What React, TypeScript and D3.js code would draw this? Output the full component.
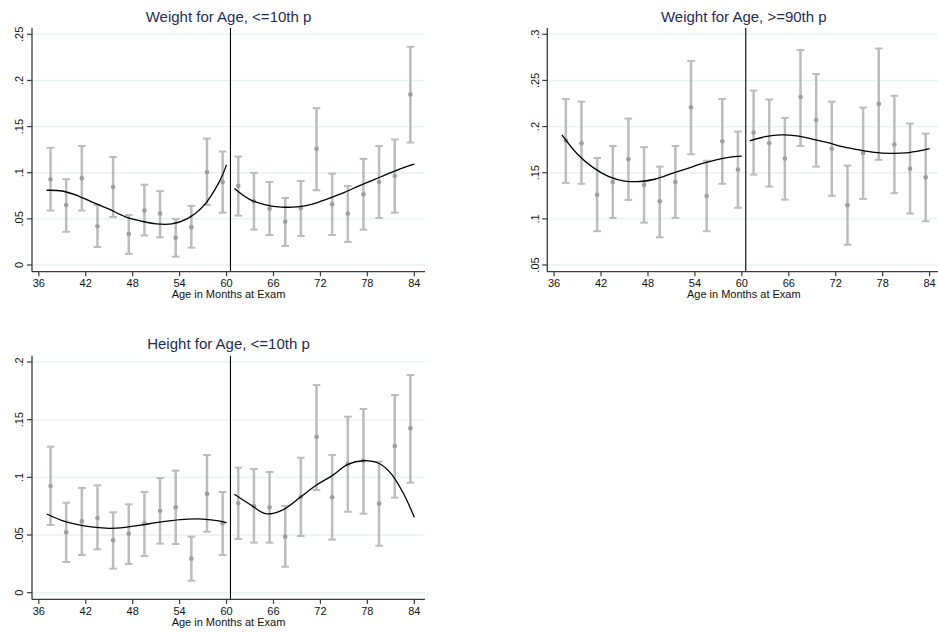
import React from "react";
import * as d3 from "d3";

// Two-month age bins (midpoints), 37.5 .. 83.5
const BIN_MONTHS = [
  37.5, 39.5, 41.5, 43.5, 45.5, 47.5, 49.5, 51.5, 53.5, 55.5, 57.5, 59.5,
  61.5, 63.5, 65.5, 67.5, 69.5, 71.5, 73.5, 75.5, 77.5, 79.5, 81.5, 83.5,
];

const X_TICKS = [36, 42, 48, 54, 60, 66, 72, 78, 84];
const CUTOFF = 60.5;

// Weight for age, <=10th percentile
const wfaLowMean = [0.093, 0.065, 0.094, 0.042, 0.0846, 0.0336, 0.059, 0.0557, 0.0296, 0.041, 0.1005, 0.09,
  0.0857, 0.069, 0.061, 0.047, 0.0618, 0.126, 0.0658, 0.0557, 0.0767, 0.09, 0.0965, 0.1847];
const wfaLowLo = [0.059, 0.036, 0.059, 0.0195, 0.052, 0.012, 0.032, 0.03, 0.009, 0.0188, 0.065, 0.0567,
  0.0535, 0.0383, 0.0325, 0.0206, 0.0315, 0.081, 0.0325, 0.025, 0.0383, 0.051, 0.0567, 0.1327];
const wfaLowHi = [0.127, 0.093, 0.129, 0.065, 0.117, 0.054, 0.087, 0.08, 0.05, 0.064, 0.137, 0.123,
  0.1175, 0.0998, 0.09, 0.0727, 0.091, 0.17, 0.099, 0.0857, 0.115, 0.129, 0.136, 0.2365];
const wfaLowFitLeft: [number, number][] = [[37, 0.081], [39, 0.0802], [41, 0.075], [43, 0.0675], [45, 0.0605], [47, 0.0525],
  [49, 0.0478], [51, 0.0445], [53, 0.0445], [55, 0.0502], [57, 0.0635], [59, 0.089], [60, 0.1085]];
const wfaLowFitRight: [number, number][] = [[61, 0.0828], [63, 0.0708], [65, 0.0652], [67, 0.0628], [69, 0.063], [71, 0.066],
  [73, 0.072], [75, 0.0785], [77, 0.086], [79, 0.093], [81, 0.1], [83, 0.1065], [84, 0.1092]];
const wfaLowTicks = [0, 0.05, 0.1, 0.15, 0.2, 0.25];
const wfaLowTickLabels = ["0", ".05", ".1", ".15", ".2", ".25"];

// Weight for age, >=90th percentile
const wfaHighMean = [0.1848, 0.182, 0.126, 0.14, 0.1646, 0.1368, 0.119, 0.14, 0.221, 0.1248, 0.184, 0.1534,
  0.1935, 0.182, 0.1653, 0.232, 0.207, 0.176, 0.1147, 0.1715, 0.2246, 0.1805, 0.1544, 0.145];
const wfaHighLo = [0.139, 0.138, 0.0866, 0.101, 0.1205, 0.0959, 0.08, 0.101, 0.17, 0.0866, 0.138, 0.112,
  0.148, 0.135, 0.1208, 0.179, 0.1566, 0.125, 0.072, 0.1216, 0.164, 0.1278, 0.1057, 0.0974];
const wfaHighHi = [0.23, 0.227, 0.166, 0.179, 0.2087, 0.1777, 0.1566, 0.179, 0.271, 0.163, 0.23, 0.1946,
  0.239, 0.2293, 0.2094, 0.283, 0.257, 0.227, 0.1577, 0.2206, 0.2846, 0.2333, 0.2033, 0.1924];
const wfaHighFitLeft: [number, number][] = [[37, 0.191], [39, 0.17], [41, 0.1555], [43, 0.1458], [45, 0.141], [47, 0.1405],
  [49, 0.1432], [51, 0.149], [53, 0.1545], [55, 0.16], [57, 0.1645], [59, 0.1675], [60, 0.168]];
const wfaHighFitRight: [number, number][] = [[61, 0.1845], [63, 0.189], [65, 0.191], [67, 0.19], [69, 0.1865], [71, 0.1825],
  [73, 0.178], [75, 0.1747], [77, 0.172], [79, 0.171], [81, 0.1715], [83, 0.1742], [84, 0.1761]];
const wfaHighTicks = [0.05, 0.1, 0.15, 0.2, 0.25, 0.3];
const wfaHighTickLabels = [".05", ".1", ".15", ".2", ".25", ".3"];

// Height for age, <=10th percentile
const hfaLowMean = [0.0925, 0.0524, 0.0619, 0.0648, 0.0454, 0.0512, 0.0602, 0.0711, 0.074, 0.0295, 0.0858, 0.0602,
  0.0775, 0.0752, 0.074, 0.0486, 0.0832, 0.135, 0.0827, 0.1113, 0.1144, 0.0772, 0.1272, 0.1425];
const hfaLowLo = [0.0587, 0.0266, 0.0327, 0.0376, 0.0208, 0.0249, 0.0318, 0.0425, 0.0422, 0.0104, 0.0529, 0.0327,
  0.0466, 0.0434, 0.0434, 0.0225, 0.0492, 0.089, 0.046, 0.0702, 0.0685, 0.0407, 0.0824, 0.0954];
const hfaLowHi = [0.1266, 0.078, 0.0908, 0.0931, 0.0697, 0.0766, 0.0873, 0.0994, 0.1058, 0.0486, 0.1194, 0.0873,
  0.1084, 0.1072, 0.1046, 0.0752, 0.117, 0.18, 0.1194, 0.1526, 0.1593, 0.1136, 0.1714, 0.1887];
const hfaLowFitLeft: [number, number][] = [[37, 0.0682], [39, 0.0625], [41, 0.059], [43, 0.0568], [45, 0.0558], [47, 0.0566],
  [49, 0.0585], [51, 0.0607], [53, 0.0625], [55, 0.0637], [57, 0.0638], [59, 0.0623], [60, 0.0607]];
const hfaLowFitRight: [number, number][] = [[61, 0.0853], [63, 0.0765], [65, 0.0685], [67, 0.0712],
  [69.5, 0.0832], [71.5, 0.0934], [73.5, 0.1015], [75.5, 0.1113], [77.5, 0.1144], [79.5, 0.112], [81, 0.1035],
  [82.6, 0.0862], [84, 0.0654]];
const hfaLowTicks = [0, 0.05, 0.1, 0.15, 0.2];
const hfaLowTickLabels = ["0", ".05", ".1", ".15", ".2"];

const FONT = "'Liberation Sans', Arial, Helvetica, sans-serif";
const TITLE_COLOR = "#1f2c55";
const GRID_COLOR = "#e9f1f2";
const BAR_COLOR = "#bcbcbc";
const DOT_COLOR = "#9e9e9e";
const AXIS_COLOR = "#3a3a3a";

const PLOT_W = 393;
const PLOT_H = 243.7;

type PanelProps = {
  left: number;
  top: number;
  title: string;
  mean: number[];
  lo: number[];
  hi: number[];
  fitLeft: [number, number][];
  fitRight: [number, number][];
  ticks: number[];
  tickLabels: string[];
};

function Panel({ left, top, title, mean, lo, hi, fitLeft, fitRight, ticks, tickLabels }: PanelProps) {
  const x = d3.scaleLinear().domain([36, 84]).range([left + 6.8, left + 382.3]);
  const y = d3
    .scaleLinear()
    .domain([ticks[0], ticks[ticks.length - 1]])
    .range([top + 237, top + 6.3]);
  const bottom = top + PLOT_H;
  const right = left + PLOT_W;
  const line = d3
    .line<[number, number]>()
    .x((d) => x(d[0]))
    .y((d) => y(d[1]))
    .curve(d3.curveCatmullRom.alpha(0.5));
  const cx = (left + right) / 2;

  return (
    <g>
      {ticks.map((t) => (
        <line key={"g" + t} x1={left} x2={right} y1={y(t)} y2={y(t)} stroke={GRID_COLOR} strokeWidth={1.4} />
      ))}

      {BIN_MONTHS.map((m, i) => (
        <g key={"b" + m} stroke={BAR_COLOR} fill="none">
          <line x1={x(m)} x2={x(m)} y1={y(lo[i])} y2={y(hi[i])} strokeWidth={2.5} />
          <line x1={x(m) - 3.8} x2={x(m) + 3.8} y1={y(lo[i])} y2={y(lo[i])} strokeWidth={2} />
          <line x1={x(m) - 3.8} x2={x(m) + 3.8} y1={y(hi[i])} y2={y(hi[i])} strokeWidth={2} />
        </g>
      ))}
      {BIN_MONTHS.map((m, i) => (
        <circle key={"p" + m} cx={x(m)} cy={y(mean[i])} r={2.3} fill={DOT_COLOR} />
      ))}

      <line x1={x(CUTOFF)} x2={x(CUTOFF)} y1={top} y2={bottom} stroke="#000" strokeWidth={1.1} />

      <path d={line(fitLeft) || ""} fill="none" stroke="#000" strokeWidth={1.3} />
      <path d={line(fitRight) || ""} fill="none" stroke="#000" strokeWidth={1.3} />

      {/* y axis */}
      <line x1={left} x2={left} y1={top} y2={bottom} stroke={AXIS_COLOR} strokeWidth={1.3} />
      {ticks.map((t, i) => (
        <g key={"yt" + t}>
          <line x1={left - 5} x2={left} y1={y(t)} y2={y(t)} stroke={AXIS_COLOR} strokeWidth={1.2} />
          <text
            transform={`translate(${left - 8.7},${y(t)}) rotate(-90)`}
            textAnchor="middle"
            fontSize={11}
            fontFamily={FONT}
            fill="#111"
          >
            {tickLabels[i]}
          </text>
        </g>
      ))}

      {/* x axis */}
      <line x1={left} x2={right} y1={bottom} y2={bottom} stroke={AXIS_COLOR} strokeWidth={1.3} />
      {X_TICKS.map((t) => (
        <g key={"xt" + t}>
          <line x1={x(t)} x2={x(t)} y1={bottom} y2={bottom + 4.5} stroke={AXIS_COLOR} strokeWidth={1.2} />
          <text x={x(t)} y={bottom + 15.4} textAnchor="middle" fontSize={11} fontFamily={FONT} fill="#111">
            {t}
          </text>
        </g>
      ))}
      <text x={cx} y={bottom + 26.6} textAnchor="middle" fontSize={11} fontFamily={FONT} fill="#111">
        Age in Months at Exam
      </text>

      <text x={cx} y={top - 6.3} textAnchor="middle" fontSize={15} fontFamily={FONT} fill={TITLE_COLOR}>
        {title}
      </text>
    </g>
  );
}

export default function App() {
  return (
    <svg
      width={938}
      height={632}
      viewBox="0 0 938 632"
      style={{ position: "absolute", left: 0, top: 0, background: "#fff" }}
    >
      <rect x={0} y={0} width={938} height={632} fill="#fff" />
      <Panel
        left={32}
        top={28}
        title="Weight for Age, <=10th p"
        mean={wfaLowMean}
        lo={wfaLowLo}
        hi={wfaLowHi}
        fitLeft={wfaLowFitLeft}
        fitRight={wfaLowFitRight}
        ticks={wfaLowTicks}
        tickLabels={wfaLowTickLabels}
      />
      <Panel
        left={547.3}
        top={28}
        title="Weight for Age, >=90th p"
        mean={wfaHighMean}
        lo={wfaHighLo}
        hi={wfaHighHi}
        fitLeft={wfaHighFitLeft}
        fitRight={wfaHighFitRight}
        ticks={wfaHighTicks}
        tickLabels={wfaHighTickLabels}
      />
      <Panel
        left={32}
        top={355.7}
        title="Height for Age, <=10th p"
        mean={hfaLowMean}
        lo={hfaLowLo}
        hi={hfaLowHi}
        fitLeft={hfaLowFitLeft}
        fitRight={hfaLowFitRight}
        ticks={hfaLowTicks}
        tickLabels={hfaLowTickLabels}
      />
    </svg>
  );
}
